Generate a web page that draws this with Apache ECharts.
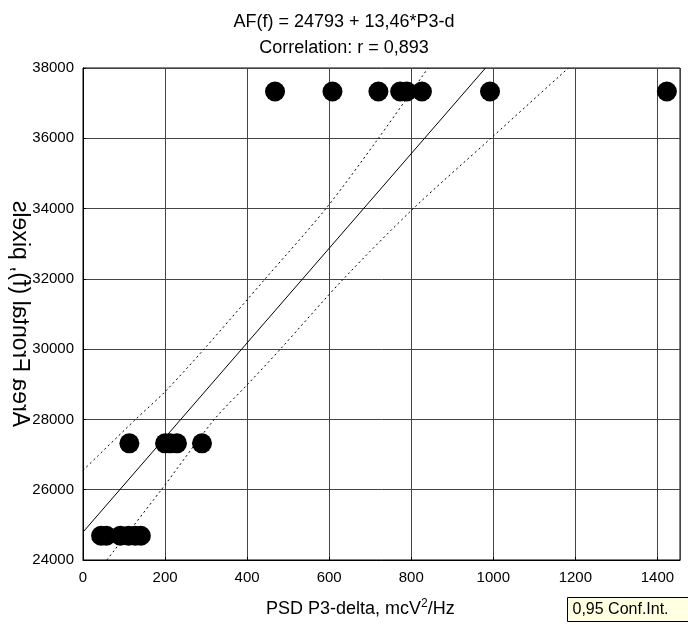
<!DOCTYPE html>
<html>
<head>
<meta charset="utf-8">
<script src="https://cdn.jsdelivr.net/npm/echarts@6/dist/echarts.min.js"></script>
<style>
  html, body { margin: 0; padding: 0; background: #fff; }
  #chart { width: 688px; height: 625px; }
</style>
</head>
<body>
<div id="chart"></div>
<script>
  // observed points
  var xValues = [468, 608, 720, 773, 789, 826, 992, 1423,
                 113, 200, 212, 229, 290,
                 44, 57, 91, 111, 127, 141];
  var yValues = [37330, 37330, 37330, 37330, 37330, 37330, 37330, 37330,
                 27320, 27320, 27320, 27320, 27320,
                 24690, 24690, 24690, 24690, 24690, 24690];

  // regression line AF(f) = 24793 + 13,46*P3-d, clipped at the top of the plot
  var fitX = [0, 981];
  var fitY = [24793, 38000];

  // 0,95 confidence band
  var upperX = [0, 128, 200, 295, 444, 592, 720, 841];
  var upperY = [26550, 28000, 28790, 30000, 32000, 34000, 36000, 38000];
  var lowerX = [58, 191, 320, 400, 481, 635, 805, 994, 1183];
  var lowerY = [24000, 26000, 28000, 28983, 30000, 32000, 34000, 36000, 38000];

  function pairs(xs, ys) {
    return xs.map(function (x, i) { return [x, ys[i]]; });
  }

  var font = 'Arial, "Liberation Sans", sans-serif';
  var myChart = echarts.init(document.getElementById('chart'));

  var option = {
    animation: false,
    title: {
      text: 'AF(f) = 24793 + 13,46*P3-d\nCorrelation: r = 0,893',
      left: 'center',
      top: 4,
      textStyle: {
        fontFamily: font,
        fontSize: 18,
        fontWeight: 'normal',
        color: '#000',
        lineHeight: 26,
        align: 'center'
      }
    },
    grid: {
      left: 83,
      top: 68,
      width: 597,
      height: 492,
      show: true,
      borderColor: '#000',
      borderWidth: 1
    },
    xAxis: {
      type: 'value',
      min: 0,
      max: 1455,
      interval: 200,
      axisLine: { lineStyle: { color: '#000' } },
      axisTick: { inside: true, length: 3, lineStyle: { color: '#000' } },
      axisLabel: {
        showMaxLabel: false, margin: 10,
        fontFamily: font, fontSize: 15, color: '#000',
        formatter: function (v) { return String(v); }
      },
      splitLine: { lineStyle: { color: '#444', width: 1 } }
    },
    yAxis: {
      type: 'value',
      min: 24000,
      max: 38000,
      interval: 2000,
      axisLine: { lineStyle: { color: '#000' } },
      axisTick: { inside: true, length: 3, lineStyle: { color: '#000' } },
      axisLabel: {
        margin: 9,
        fontFamily: font, fontSize: 15, color: '#000',
        formatter: function (v) { return String(v); }
      },
      splitLine: { lineStyle: { color: '#444', width: 1 } }
    },
    graphic: [
      {
        type: 'text',
        left: 266,
        top: 598,
        style: {
          text: '{a|PSD P3-delta, mcV}{s|2}{a|/Hz}',
          rich: {
            a: { fontFamily: font, fontSize: 18, color: '#000', verticalAlign: 'bottom' },
            s: { fontFamily: font, fontSize: 12, color: '#000', verticalAlign: 'top', padding: [0, 0, 8, 0] }
          }
        }
      },
      {
        // mirrored y axis title as in the original
        type: 'text',
        x: 19,
        y: 314,
        rotation: Math.PI / 2,
        scaleY: -1,
        style: {
          text: 'Area Frontal (f), pixels',
          fontFamily: font,
          fontSize: 23,
          fill: '#000',
          align: 'center',
          verticalAlign: 'middle'
        }
      },
      {
        type: 'group',
        left: 567,
        top: 597,
        children: [
          {
            type: 'rect',
            shape: { x: 0, y: 0, width: 130, height: 24 },
            style: { fill: '#ffffe1', stroke: '#000', lineWidth: 1 }
          },
          {
            type: 'text',
            x: 5,
            y: 12,
            style: {
              text: '0,95 Conf.Int.',
              fontFamily: font,
              fontSize: 16,
              fill: '#000',
              verticalAlign: 'middle'
            }
          }
        ]
      }
    ],
    series: [
      {
        type: 'line',
        data: pairs(upperX, upperY),
        smooth: 0.3,
        symbol: 'none',
        lineStyle: { color: '#000', width: 1, type: [2, 3] },
        z: 2
      },
      {
        type: 'line',
        data: pairs(lowerX, lowerY),
        smooth: 0.3,
        symbol: 'none',
        lineStyle: { color: '#000', width: 1, type: [2, 3] },
        z: 2
      },
      {
        type: 'line',
        data: pairs(fitX, fitY),
        symbol: 'none',
        lineStyle: { color: '#000', width: 1 },
        z: 2
      },
      {
        type: 'scatter',
        data: pairs(xValues, yValues),
        symbol: 'circle',
        symbolSize: 20,
        itemStyle: { color: '#000', opacity: 1 },
        z: 3
      }
    ]
  };
  myChart.setOption(option);
</script>
</body>
</html>
